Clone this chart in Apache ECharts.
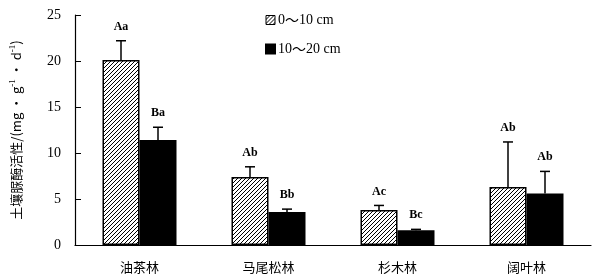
<!DOCTYPE html>
<html><head><meta charset="utf-8">
<script src="https://cdn.jsdelivr.net/npm/echarts@6/dist/echarts.min.js"></script>
<style>html,body{margin:0;padding:0;background:#fff}#c{width:613px;height:276px}</style>
</head><body><div id="c"></div>
<script>
var categories = ['油茶林', '马尾松林', '杉木林', '阔叶林'];
var shallow = [20.1, 7.4, 3.8, 6.3];
var shallowSD = [2.1, 1.1, 0.5, 4.9];
var deep = [11.4, 3.6, 1.6, 5.6];
var deepSD = [1.4, 0.3, 0.1, 2.4];
var shallowLetters = ['Aa', 'Ab', 'Ac', 'Ab'];
var deepLetters = ['Ba', 'Bb', 'Bc', 'Ab'];
var seriesNames = ['0～10 cm', '10～20 cm'];
var yTicks = [0, 5, 10, 15, 20, 25];

var pc = document.createElement('canvas');
pc.width = 4; pc.height = 4;
var g = pc.getContext('2d');
g.fillStyle = '#fff'; g.fillRect(0, 0, 4, 4);
g.strokeStyle = '#000'; g.lineWidth = 1;
g.beginPath();
g.moveTo(-1, 5); g.lineTo(5, -1);
g.moveTo(-1, 1); g.lineTo(1, -1);
g.moveTo(3, 5); g.lineTo(5, 3);
g.stroke();
var hatch = { image: pc, repeat: 'repeat' };

var BW = 37;
function errSeries(vals, sds, letters, offset) {
  return {
    type: 'custom', silent: true, z: 5,
    data: vals.map(function (v, i) { return [i, v, v + sds[i]]; }),
    renderItem: function (params, api) {
      var base = api.coord([api.value(0), api.value(1)]);
      var top = api.coord([api.value(0), api.value(2)]);
      var x = base[0] + offset;
      return { type: 'group', children: [
        { type: 'line', shape: { x1: x, y1: base[1], x2: x, y2: top[1] }, style: { stroke: '#000', lineWidth: 1.5 } },
        { type: 'line', shape: { x1: x - 5, y1: top[1], x2: x + 5, y2: top[1] }, style: { stroke: '#000', lineWidth: 1.5 } },
        { type: 'text', x: x, y: top[1] - 8, style: { text: letters[params.dataIndex], textAlign: 'center', textVerticalAlign: 'bottom', font: 'bold 12px "Liberation Serif", serif', fill: '#000' } }
      ]};
    }
  };
}

var chart = echarts.init(document.getElementById('c'));
chart.setOption({
  animation: false,
  backgroundColor: '#fff',
  grid: { left: 71, right: 22, top: 15, bottom: 31 },
  legend: {
    data: [
      { name: seriesNames[0], itemStyle: { color: hatch, borderColor: '#000', borderWidth: 1 } },
      { name: seriesNames[1], itemStyle: { color: '#000' } }
    ],
    orient: 'vertical', left: 265, top: 13, itemWidth: 9, itemHeight: 9, itemGap: 15, padding: 0,
    icon: 'rect',
    formatter: function (n) { var p = n.split('～'); return p[0] + '{t|～}' + p[1]; },
    textStyle: { fontFamily: '"Liberation Serif", serif', fontSize: 14, color: '#000', padding: [0, 0, 0, -2],
      rich: { t: { fontFamily: '"Noto Sans CJK SC", sans-serif', fontSize: 14, color: '#000' } } }
  },
  xAxis: {
    type: 'category', data: categories,
    axisLine: { lineStyle: { color: '#000', width: 1.2 } },
    axisTick: { inside: true, length: 6, lineStyle: { color: '#000' } },
    axisLabel: { color: '#000', fontFamily: '"Noto Sans CJK SC", sans-serif', fontSize: 13, margin: 16 }
  },
  yAxis: {
    type: 'value', min: 0, max: 25, interval: 5,
    name: '{a|土壤脲酶活性/(mg • g}{s|-1}{a| • d}{s|-1}{a|)}',
    nameLocation: 'middle', nameRotate: 90, nameGap: 50,
    nameTextStyle: { rich: {
      a: { fontFamily: '"Noto Sans CJK SC", "Liberation Serif", serif', fontSize: 13, color: '#000' },
      s: { fontFamily: '"Liberation Serif", serif', fontSize: 9, color: '#000', verticalAlign: 'top', padding: [0, 0, 8, 0] }
    } },
    axisLine: { show: true, lineStyle: { color: '#000', width: 1.2 } },
    axisTick: { show: true, inside: true, length: 6, lineStyle: { color: '#000' } },
    splitLine: { show: false },
    axisLabel: { color: '#000', fontFamily: '"Liberation Serif", serif', fontSize: 14, margin: 14,
      formatter: function (v) { return yTicks.indexOf(v) >= 0 ? String(v) : ''; } }
  },
  series: [
    { name: seriesNames[0], type: 'bar', data: shallow, barWidth: BW, barGap: '0%',
      itemStyle: { color: hatch, borderColor: '#000', borderWidth: 1.5 } },
    { name: seriesNames[1], type: 'bar', data: deep, barWidth: BW, barGap: '0%',
      itemStyle: { color: '#000', borderColor: '#000', borderWidth: 1.5 } },
    errSeries(shallow, shallowSD, shallowLetters, -BW / 2),
    errSeries(deep, deepSD, deepLetters, BW / 2)
  ]
});
</script></body></html>
